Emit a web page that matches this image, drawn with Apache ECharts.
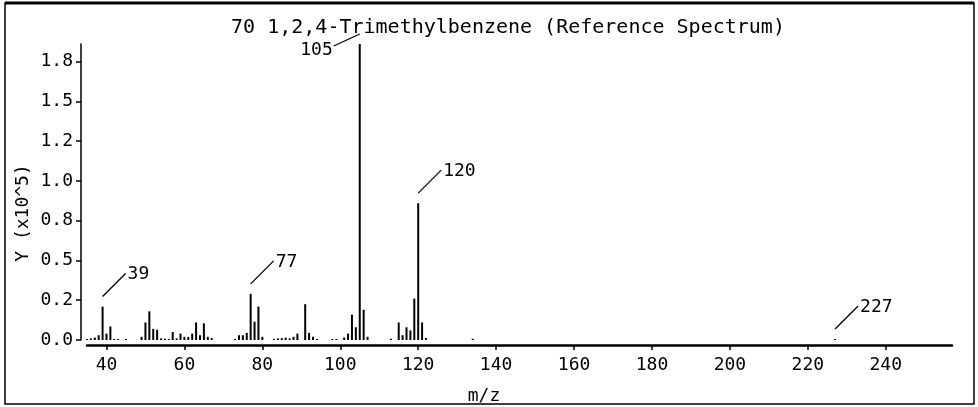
<!DOCTYPE html>
<html>
<head>
<meta charset="utf-8">
<script src="https://cdn.jsdelivr.net/npm/echarts@6/dist/echarts.min.js"></script>
<style>
html,body{margin:0;padding:0;background:#fff;}
#chart{width:978px;height:407px;}
</style>
</head>
<body>
<div id="chart"></div>
<script>
// Data (intensity in units of 1e5)
var peakMz = [35,36,37,38,39,40,41,42,43,45,49,50,51,52,53,54,55,56,57,58,59,60,61,62,63,64,65,66,67,73,74,75,76,77,78,79,80,83,84,85,86,87,88,89,91,92,93,94,98,99,101,102,103,104,105,106,107,113,115,116,117,118,119,120,121,122,134,227];
var peakIntensity = [0.005,0.01,0.015,0.03,0.21,0.04,0.085,0.006,0.006,0.005,0.02,0.11,0.18,0.07,0.065,0.01,0.008,0.006,0.05,0.01,0.04,0.02,0.02,0.04,0.11,0.03,0.105,0.02,0.012,0.006,0.03,0.03,0.045,0.29,0.115,0.21,0.02,0.006,0.01,0.012,0.015,0.01,0.02,0.04,0.225,0.045,0.02,0.006,0.005,0.005,0.015,0.04,0.16,0.08,1.86,0.19,0.02,0.008,0.11,0.03,0.08,0.06,0.26,0.86,0.11,0.012,0.008,0.006];
var annotatedMz = [39,77,105,120,227];
var xTickValues = [40,60,80,100,120,140,160,180,200,220,240];
var yTickValues = [0,0.25,0.5,0.75,1.0,1.25,1.5,1.75];
var yTickLabels = ['0.0','0.2','0.5','0.8','1.0','1.2','1.5','1.8'];
var titleText = '70 1,2,4-Trimethylbenzene (Reference Spectrum)';
var xAxisName = 'm/z';
var yAxisName = 'Y (x10^5)';

var FONT = '"DejaVu Sans Mono", monospace';
var peakData = peakMz.map(function(m,i){return [m, peakIntensity[i]];});
var annData = annotatedMz.map(function(m){return [m, peakIntensity[peakMz.indexOf(m)]];});

var chart = echarts.init(document.getElementById('chart'), null, {renderer:'canvas'});
chart.setOption({
  animation:false,
  backgroundColor:'#fff',
  grid:{left:87,right:26,top:44,bottom:67,containLabel:false},
  xAxis:{
    type:'value', min:35, max:257, offset:5,
    axisLine:{show:true,onZero:false,lineStyle:{color:'#000',width:2.5}},
    axisTick:{show:true,length:5,lineStyle:{color:'#000',width:1.5},customValues:xTickValues},
    axisLabel:{show:true,customValues:xTickValues,margin:11,color:'#000',fontFamily:FONT,fontSize:18},
    splitLine:{show:false}
  },
  yAxis:{
    type:'value', min:0, max:1.86, offset:6,
    axisLine:{show:true,onZero:false,lineStyle:{color:'#000',width:1.5}},
    axisTick:{show:true,length:5,lineStyle:{color:'#000',width:1.5},customValues:yTickValues},
    axisLabel:{show:true,customValues:yTickValues,margin:8,color:'#000',fontFamily:FONT,fontSize:18,
      formatter:function(v){var i=yTickValues.indexOf(v);return i>=0?yTickLabels[i]:'';}},
    splitLine:{show:false}
  },
  graphic:[
    {type:'rect',shape:{x:5,y:3,width:969,height:401},style:{fill:'none',stroke:'#000',lineWidth:1.5},silent:true},
    {type:'line',shape:{x1:5,y1:3,x2:974,y2:3},style:{stroke:'#000',lineWidth:3},silent:true},
    {type:'text',x:508,y:28,style:{text:titleText,font:'20px '+FONT,fill:'#000',align:'center',verticalAlign:'middle'}},
    {type:'text',x:484,y:396,style:{text:xAxisName,font:'18px '+FONT,fill:'#000',align:'center',verticalAlign:'middle'}},
    {type:'text',x:23,y:213,rotation:Math.PI/2,style:{text:yAxisName,font:'18px '+FONT,fill:'#000',align:'center',verticalAlign:'middle'}}
  ],
  series:[
    {type:'bar',data:peakData,barWidth:2,barMinHeight:1,itemStyle:{color:'#000'},silent:true},
    {type:'custom',data:annData,clip:false,z:5,silent:true,encode:{x:0,y:1},
      renderItem:function(params,api){
        var p=api.coord([api.value(0),api.value(1)]);
        var x=p[0],y=p[1];
        var txt=String(api.value(0));
        var flip=(y-36)<params.coordSys.y;
        if(!flip){
          return {type:'group',children:[
            {type:'line',shape:{x1:x,y1:y-10,x2:x+23,y2:y-33},style:{stroke:'#000',lineWidth:1.3}},
            {type:'text',style:{x:x+25,y:y-32,text:txt,font:'18px '+FONT,fill:'#000',align:'left',verticalAlign:'middle'}}
          ]};
        }
        return {type:'group',children:[
          {type:'line',shape:{x1:x,y1:y-10,x2:x-26,y2:y+2},style:{stroke:'#000',lineWidth:1.3}},
          {type:'text',style:{x:x-27,y:y+6,text:txt,font:'18px '+FONT,fill:'#000',align:'right',verticalAlign:'middle'}}
        ]};
      }
    }
  ]
});
</script>
</body>
</html>
